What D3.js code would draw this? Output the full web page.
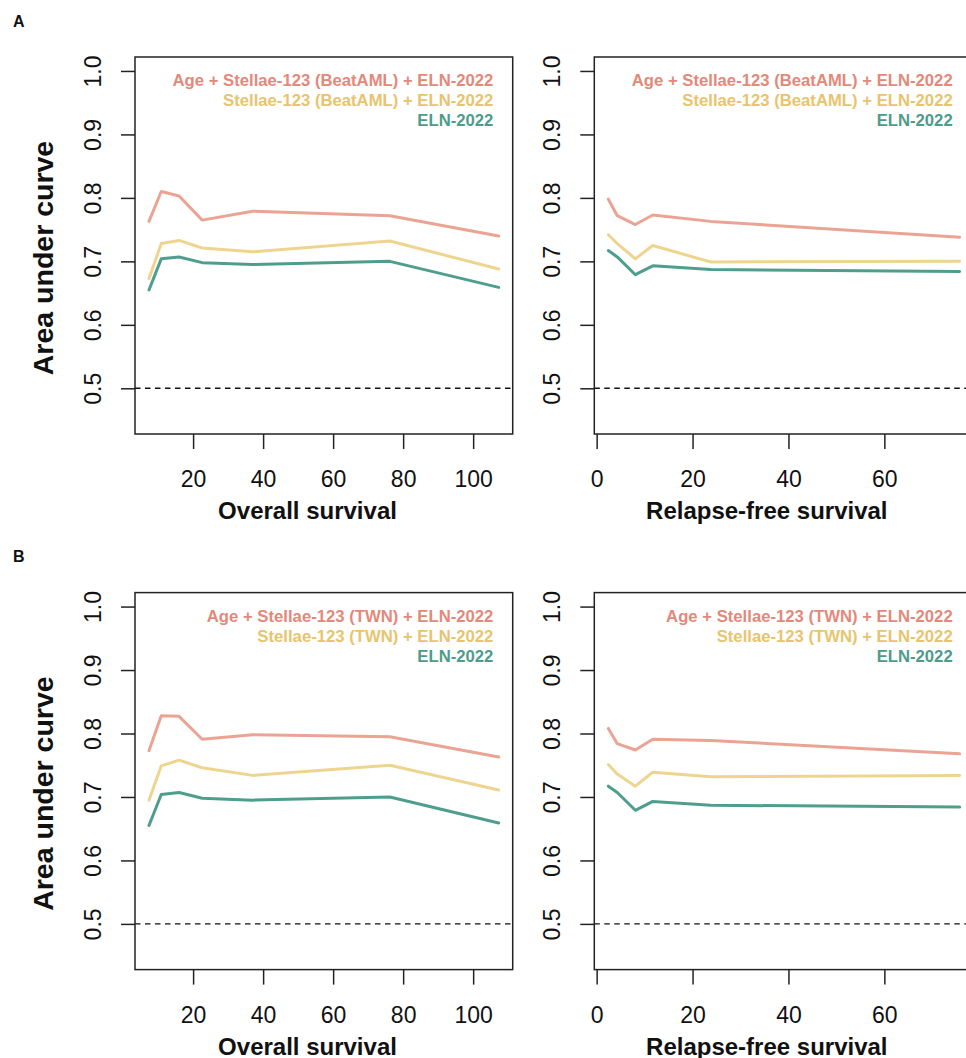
<!DOCTYPE html>
<html>
<head>
<meta charset="utf-8">
<script src="https://cdn.jsdelivr.net/npm/d3@7"></script>
<style>
  html, body { margin: 0; padding: 0; background: #fff; }
  svg { display: block; font-family: "Liberation Sans", Arial, Helvetica, sans-serif; }
</style>
</head>
<body>
<svg id="chart" width="966" height="1058"></svg>
<script>
// ---------------- DATA ----------------
const osTimes  = [7.4, 10.9, 16.0, 22.6, 37.0, 76.2, 107.3];
const rfsTimes = [2.44, 4.3, 8.07, 11.7, 23.8, 75.7];

// Panel A (BeatAML)
const ageBeatOS  = [0.763, 0.810, 0.803, 0.765, 0.779, 0.772, 0.740];
const stelBeatOS = [0.673, 0.728, 0.733, 0.721, 0.715, 0.732, 0.688];
const elnOS      = [0.655, 0.704, 0.707, 0.698, 0.695, 0.700, 0.659];

const ageBeatRFS  = [0.798, 0.772, 0.758, 0.773, 0.763, 0.738];
const stelBeatRFS = [0.742, 0.728, 0.704, 0.725, 0.699, 0.700];
const elnRFS      = [0.717, 0.707, 0.679, 0.693, 0.687, 0.684];

// Panel B (TWN)
const ageTwnOS  = [0.773, 0.828, 0.827, 0.791, 0.798, 0.795, 0.763];
const stelTwnOS = [0.695, 0.749, 0.758, 0.746, 0.734, 0.750, 0.711];

const ageTwnRFS  = [0.808, 0.784, 0.774, 0.791, 0.789, 0.768];
const stelTwnRFS = [0.751, 0.736, 0.717, 0.739, 0.732, 0.734];

const yTicks = [0.5, 0.6, 0.7, 0.8, 0.9, 1.0];
const osTicks = [20, 40, 60, 80, 100];
const rfsTicks = [0, 20, 40, 60];
const yLimits = [0.45, 1.0];

const legendA = ["Age + Stellae-123 (BeatAML) + ELN-2022", "Stellae-123 (BeatAML) + ELN-2022", "ELN-2022"];
const legendB = ["Age + Stellae-123 (TWN) + ELN-2022", "Stellae-123 (TWN) + ELN-2022", "ELN-2022"];
const xTitles = ["Overall survival", "Relapse-free survival"];
const yTitle = "Area under curve";
const panelLetters = ["A", "B"];

// ---------------- STYLE ----------------
const lineColors   = ["#EBA493", "#EED58F", "#4F9E8D"];
const legendColors = ["#E4887A", "#E8C46C", "#4C9C8C"];

const svg = d3.select("#chart");

function rPad(ext) {
  const d = (ext[1] - ext[0]) * 0.04;
  return [ext[0] - d, ext[1] + d];
}

function drawPanel(opt) {
  const { x0, y0, w, h, times, series, ticks, legend, xTitle, showYTitle } = opt;
  const g = svg.append("g").attr("transform", `translate(${x0},${y0})`);
  const x = d3.scaleLinear().domain(rPad(d3.extent(times))).range([0, w]);
  const y = d3.scaleLinear().domain(rPad(yLimits)).range([h, 0]);

  // dashed reference
  g.append("line")
    .attr("x1", 0).attr("x2", w)
    .attr("y1", y(0.5)).attr("y2", y(0.5))
    .attr("stroke", "#111").attr("stroke-width", 1.4)
    .attr("stroke-dasharray", "5.5,4.5");

  // lines
  const line = d3.line().x((d, i) => x(times[i])).y(d => y(d));
  series.forEach((s, k) => {
    g.append("path").datum(s)
      .attr("d", line)
      .attr("fill", "none")
      .attr("stroke", lineColors[k])
      .attr("stroke-width", 3)
      .attr("stroke-linejoin", "round")
      .attr("stroke-linecap", "round");
  });

  // box
  g.append("rect").attr("x", 0).attr("y", 0).attr("width", w).attr("height", h)
    .attr("fill", "none").attr("stroke", "#222").attr("stroke-width", 1.5);

  // y axis
  const ya = g.append("g").call(
    d3.axisLeft(y).tickValues(yTicks).tickSize(14).tickSizeOuter(0).tickFormat(d3.format(".1f")));
  ya.select(".domain").remove();
  ya.selectAll(".tick line").attr("stroke", "#222").attr("stroke-width", 1.5);
  ya.selectAll(".tick text")
    .attr("x", null).attr("dy", null)
    .attr("transform", "translate(-34,0) rotate(-90)")
    .attr("text-anchor", "middle")
    .attr("font-size", 23)
    .attr("font-family", "Liberation Sans, Arial, sans-serif")
    .attr("fill", "#111");

  // x axis
  const xa = g.append("g").attr("transform", `translate(0,${h})`).call(
    d3.axisBottom(x).tickValues(ticks).tickSize(15).tickSizeOuter(0).tickFormat(d3.format("d")));
  xa.select(".domain").remove();
  xa.selectAll(".tick line").attr("stroke", "#222").attr("stroke-width", 1.5);
  xa.selectAll(".tick text")
    .attr("y", 53).attr("dy", null)
    .attr("font-size", 23)
    .attr("font-family", "Liberation Sans, Arial, sans-serif")
    .attr("fill", "#111");

  // x title
  g.append("text").attr("x", 172.5).attr("y", h + 85)
    .attr("text-anchor", "middle").attr("font-size", 24).attr("font-weight", "bold")
    .attr("fill", "#111").text(xTitle);

  // y title
  if (showYTitle) {
    g.append("text")
      .attr("transform", `translate(-82,201) rotate(-90)`)
      .attr("text-anchor", "middle").attr("font-size", 28.5).attr("font-weight", "bold")
      .attr("fill", "#111").text(yTitle);
  }

  // legend
  legend.forEach((t, k) => {
    g.append("text").attr("x", 358.4).attr("y", 29 + 20 * k)
      .attr("text-anchor", "end").attr("font-size", 16.7).attr("font-weight", "bold")
      .attr("fill", legendColors[k]).text(t);
  });
}

const boxH = 377;
const rows = [57, 592.6];
const leftX = 135, leftW = 377.7;
const rightX = 594.3, rightW = 379.4;

const panels = [
  { row: 0, x0: leftX, w: leftW, times: osTimes, ticks: osTicks, series: [ageBeatOS, stelBeatOS, elnOS], legend: legendA, xTitle: xTitles[0], showYTitle: true },
  { row: 0, x0: rightX, w: rightW, times: rfsTimes, ticks: rfsTicks, series: [ageBeatRFS, stelBeatRFS, elnRFS], legend: legendA, xTitle: xTitles[1], showYTitle: false },
  { row: 1, x0: leftX, w: leftW, times: osTimes, ticks: osTicks, series: [ageTwnOS, stelTwnOS, elnOS], legend: legendB, xTitle: xTitles[0], showYTitle: true },
  { row: 1, x0: rightX, w: rightW, times: rfsTimes, ticks: rfsTicks, series: [ageTwnRFS, stelTwnRFS, elnRFS], legend: legendB, xTitle: xTitles[1], showYTitle: false }
];
panels.forEach(p => drawPanel(Object.assign({}, p, { y0: rows[p.row], h: boxH })));

// panel letters
panelLetters.forEach((L, i) => {
  svg.append("text").attr("x", 13).attr("y", 26.5 + i * 535.6)
    .attr("font-size", 16).attr("font-weight", "bold").attr("fill", "#111").text(L);
});
</script>
</body>
</html>
